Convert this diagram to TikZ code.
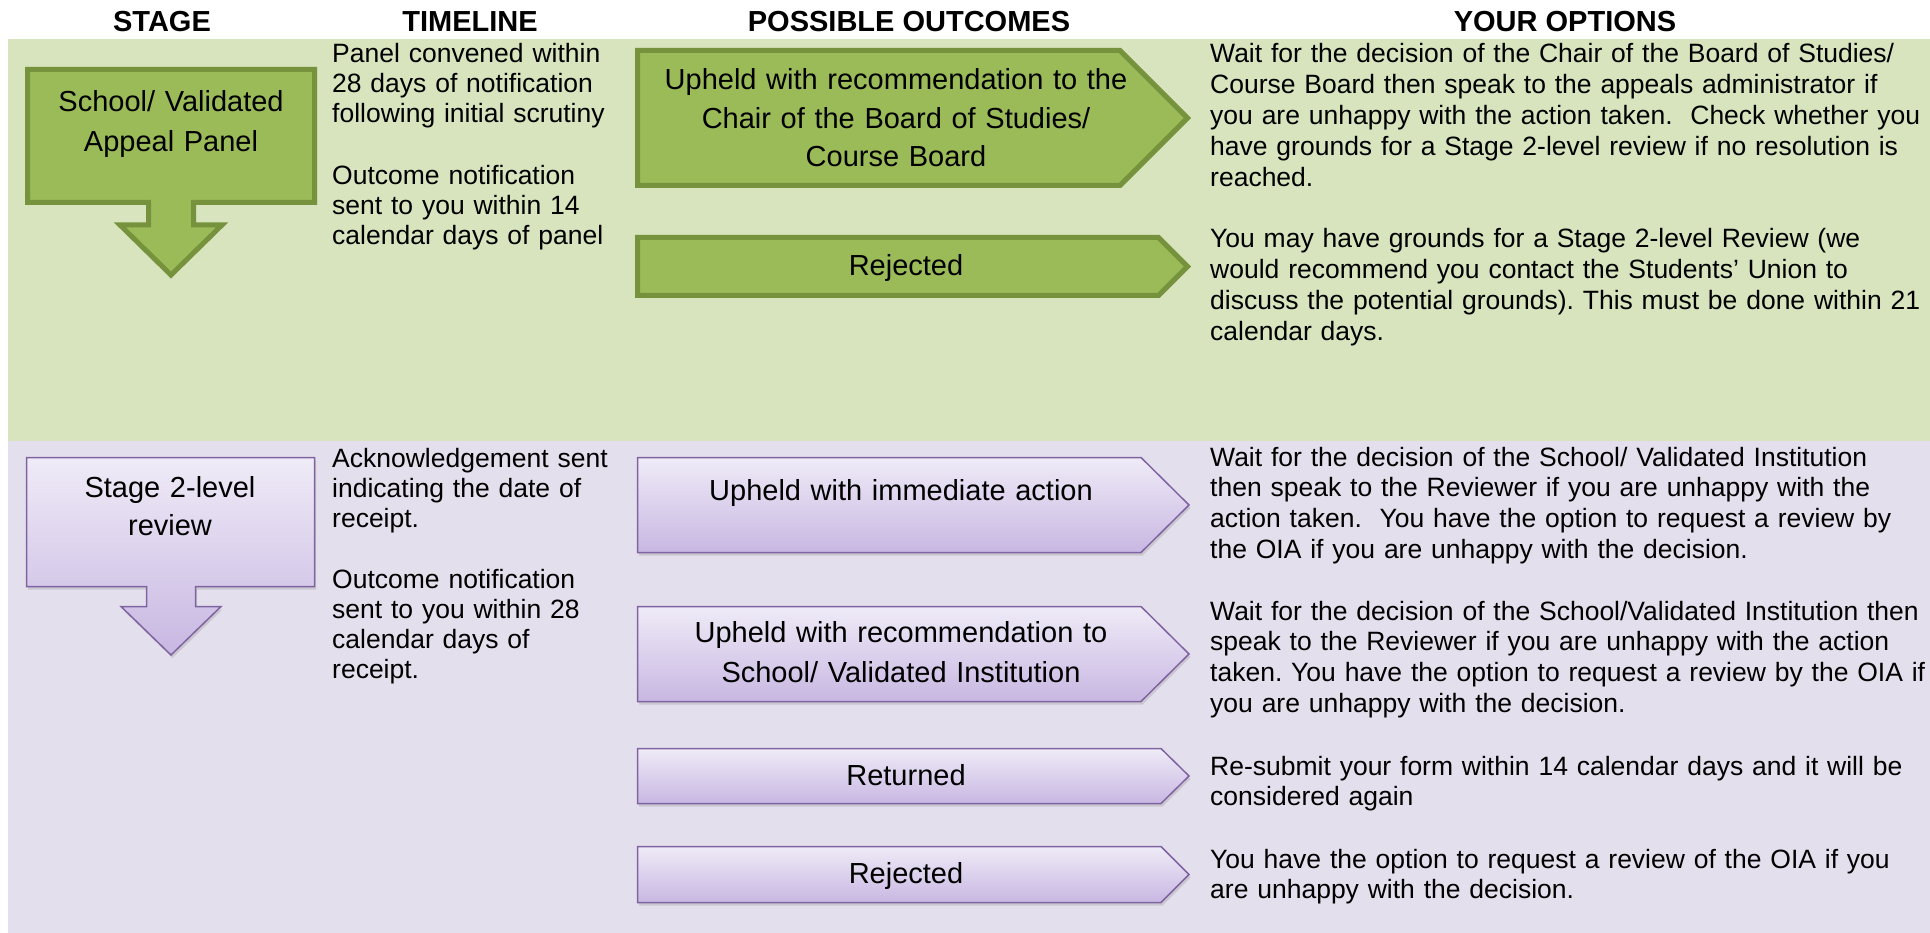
\documentclass[tikz,border=0pt]{standalone}
\usepackage{fontspec}
\setmainfont{Liberation Sans}
\usetikzlibrary{shadows}
\frenchspacing

\definecolor{bandgreen}{HTML}{D7E4BD}
\definecolor{bandpurple}{HTML}{E4DFEC}
\definecolor{greenfill}{HTML}{9BBB59}
\definecolor{greenline}{HTML}{76923C}
\definecolor{purptop}{HTML}{EFEBF7}
\definecolor{purpbot}{HTML}{C8B7E2}
\definecolor{purpline}{HTML}{8064A2}

\begin{document}
\begin{tikzpicture}
	[x=1pt, y=-1pt,
	head/.style={anchor=base, inner sep=0pt, font=\fontsize{29}{32}\selectfont\bfseries},
	timeline/.style={anchor=base west, inner sep=0pt, align=left, text width=290pt, font=\fontsize{26.5}{30}\selectfont},
	option/.style={anchor=base west, inner sep=0pt, align=left, text width=760pt, font=\fontsize{26.5}{30.8}\selectfont},
	boxtxt/.style={anchor=base, inner sep=0pt, align=center, text width=540pt, font=\fontsize{29}{39}\selectfont},
	greenshape/.style={fill=greenfill, draw=greenline, line width=5pt},
	purpshape/.style={top color=purptop, bottom color=purpbot, draw=purpline, line width=1.5pt,
		drop shadow={opacity=0.25, shadow xshift=1.5pt, shadow yshift=-3pt}}]
	\useasboundingbox (0,0) rectangle (1930,933);
	\fill[bandgreen] (8,39) rectangle (1930,441);
	\fill[bandpurple] (8,441) rectangle (1930,933);

	\node[head] (hstage) at (162,32) {STAGE};
	\node[head] (htime) at (470,32) {TIMELINE};
	\node[head] (hout) at (909,32) {POSSIBLE OUTCOMES};
	\node[head] (hopt) at (1565,32) {YOUR OPTIONS};

	% stage 1
	\draw[greenshape] (27.5,69.5) -- (314.5,69.5) -- (314.5,202.5) -- (193.5,202.5) -- (193.5,225) -- (222,225)
		-- (171,275) -- (120,225) -- (148.5,225) -- (148.5,202.5) -- (27.5,202.5) -- cycle;
	\draw[greenshape] (637.5,50.5) -- (1120,50.5) -- (1187.5,118) -- (1120,185.5) -- (637.5,185.5) -- cycle;
	\draw[greenshape] (637.5,237.5) -- (1158.5,237.5) -- (1187.5,266.5) -- (1158.5,295.5) -- (637.5,295.5) -- cycle;

	\node[boxtxt, font=\fontsize{29}{40}\selectfont] (panel) at (171,112) {School/ Validated\\Appeal Panel};
	\node[timeline] (tpanel) at (332,63) {Panel convened within\\28 days of notification\\following initial scrutiny};
	\node[timeline] (tpanelout) at (332,185) {Outcome notification\\sent to you within 14\\calendar days of panel};
	\node[boxtxt, font=\fontsize{29}{38.5}\selectfont] (upchair) at (896,90) {Upheld with recommendation to the\\Chair of the Board of Studies/\\Course Board};
	\node[boxtxt] (rejpanel) at (906,276) {Rejected};
	\node[option] (oupchair) at (1210,63) {Wait for the decision of the Chair of the Board of Studies/\\Course Board then speak to the appeals administrator if\\you are unhappy with the action taken.\ \ Check whether you\\have grounds for a Stage 2-level review if no resolution is\\reached.};
	\node[option] (orejpanel) at (1210,248) {You may have grounds for a Stage 2-level Review (we\\would recommend you contact the Students’ Union to\\discuss the potential grounds). This must be done within 21\\calendar days.};

	% stage 2
	\draw[purpshape] (26.5,457.5) -- (314.5,457.5) -- (314.5,586.5) -- (195.5,586.5) -- (195.5,606.5) -- (221,606.5)
		-- (171,655) -- (121,606.5) -- (146.5,606.5) -- (146.5,586.5) -- (26.5,586.5) -- cycle;
	\draw[purpshape] (637.5,457.5) -- (1141,457.5) -- (1189,505) -- (1141,552.5) -- (637.5,552.5) -- cycle;
	\draw[purpshape] (637.5,606.5) -- (1141,606.5) -- (1189,654) -- (1141,701.5) -- (637.5,701.5) -- cycle;
	\draw[purpshape] (637.5,748.5) -- (1161,748.5) -- (1189,776) -- (1161,803.5) -- (637.5,803.5) -- cycle;
	\draw[purpshape] (637.5,846.5) -- (1161,846.5) -- (1189,874.5) -- (1161,902.5) -- (637.5,902.5) -- cycle;

	\node[boxtxt, font=\fontsize{29}{38}\selectfont] (review) at (170,497) {Stage 2-level\\review};
	\node[timeline] (track) at (332,467) {Acknowledgement sent\\indicating the date of\\receipt.};
	\node[timeline] (treviewout) at (332,588) {Outcome notification\\sent to you within 28\\calendar days of\\receipt.};
	\node[boxtxt] (upnow) at (901,500) {Upheld with immediate action};
	\node[boxtxt, font=\fontsize{29}{40}\selectfont] (upschool) at (901,642) {Upheld with recommendation to\\School/ Validated Institution};
	\node[boxtxt] (returned) at (906,785) {Returned};
	\node[boxtxt] (rejreview) at (906,883) {Rejected};
	\node[option] (oupnow) at (1210,466) {Wait for the decision of the School/ Validated Institution\\then speak to the Reviewer if you are unhappy with the\\action taken.\ \ You have the option to request a review by\\the OIA if you are unhappy with the decision.};
	\node[option] (oupschool) at (1210,620) {Wait for the decision of the School/Validated Institution then\\speak to the Reviewer if you are unhappy with the action\\taken. You have the option to request a review by the OIA if\\you are unhappy with the decision.};
	\node[option] (oreturned) at (1210,775) {Re-submit your form within 14 calendar days and it will be\\considered again};
	\node[option] (orejreview) at (1210,868) {You have the option to request a review of the OIA if you\\are unhappy with the decision.};
\end{tikzpicture}
\end{document}
